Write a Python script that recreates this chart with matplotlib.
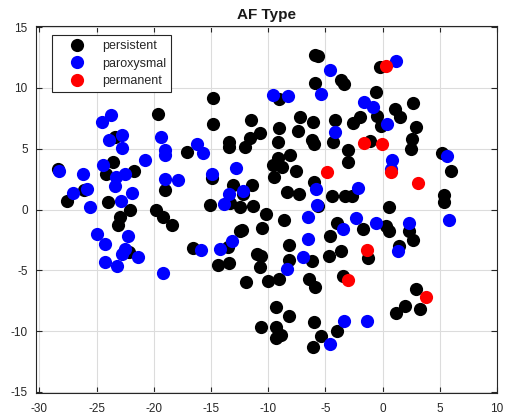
import matplotlib.pyplot as plt
from matplotlib.lines import Line2D

# persistent (black)
persistent_x = [-19.6, -23.4, -17.1, -28.4, -23.6, -24.2, -21.7, -26.1, -27.6, -24.0, -19.0, -22.1, -19.8,
                -23.0, -23.1, -19.2, -18.45, -16.6, -22.2,
                -5.9, -5.65, -3.6, -3.4, -5.9, -14.8, -9.06, -14.8, -11.5, -10.75, -11.6, -12.0, -13.4, -13.4,
                -9.06, -9.15, -7.25, -7.4, -6.1, -6.15, -6.0, -4.2, -4.3, -3.0, -3.0, -8.1, -9.15, -9.6, -8.8,
                -7.6, -9.5, -14.9, -13.1, -11.4, -12.2, -13.3, -15.1, -12.5, -11.3, -8.4, -7.35, -6.0, -4.4, -3.3,
                -0.25, -0.6, 2.7, 1.06, 1.5, -1.94, -2.6, -0.5, -0.1, 2.96, -1.1, 2.6, 2.5, 5.2, 6.0, -2.7,
                5.35, 5.4, 0.6,
                -10.2, -8.6, -10.55, -12.5, -12.3, -13.5, -14.4, -13.4, -11.0, -10.6, -10.75, -11.9, -10.0,
                -9.06, -8.2, -8.2, -6.2, -6.4, -5.9, -4.6, -4.0, -3.6, -4.7, -5.65, -9.3, -8.2, -10.6, -9.35,
                -8.85, -9.35, -6.0, -5.4, -6.1, -4.0, -3.5,
                -1.7, 0.33, 0.56, 2.3, 2.7, 1.43, -1.3, 2.9, 3.25, 2.0, 1.15]
persistent_y = [7.85, 6.0, 4.7, 3.3, 3.9, 2.9, 3.2, 1.6, 0.74, 0.6, 1.57, 0.0, 0.0,
                -0.6, -1.24, -0.6, -1.24, -3.2, -3.5,
                12.7, 12.65, 10.66, 10.33, 10.4, 9.15, 9.1, 7.0, 7.4, 6.3, 5.85, 5.15, 5.55, 5.15,
                6.67, 5.56, 7.6, 6.5, 7.2, 5.7, 5.4, 7.35, 5.56, 4.9, 3.9, 4.46, 4.24, 3.7, 3.5,
                3.2, 2.7, 2.6, 2.0, 2.04, 1.24, 0.5, 0.4, 0.2, 0.25, 1.43, 1.3, 2.26, 1.1, 1.1,
                11.7, 9.7, 8.8, 8.3, 7.6, 7.6, 7.1, 7.7, 6.86, 6.8, 5.65, 5.84, 5.0, 4.65, 3.17, 1.1,
                1.2, 0.6, 0.2,
                -0.4, -0.85, -1.5, -1.74, -1.68, -3.1, -4.6, -4.4, -3.7, -3.8, -4.7, -6.0, -5.87,
                -5.7, -2.9, -4.16, -4.27, -5.7, -6.4, -2.2, -1.1, -3.4, -3.86, 0.25, -8.0, -8.8, -9.7, -9.7,
                -10.3, -10.55, -9.26, -10.4, -11.3, -10.0, -5.5,
                -1.6, -1.32, -1.74, -1.8, -2.5, -2.98, -4.0, -6.55, -8.2, -7.9, -8.5]

# paroxysmal (blue)
paroxysmal_x = [-24.5, -23.7, -22.8, -23.9, -22.8, -19.4, -19.0, -19.0, -20.8, -24.4, -26.2, -23.3, -22.5,
                -23.4, -25.8, -27.1, -19.0, -17.9, -21.9, -22.9, -25.6, -28.3,
                -25.0, -24.25, -22.3, -22.5, -22.8, -21.4, -24.25, -23.2, -19.2,
                -9.6, -8.3, -4.6, -5.4, -4.2, -16.2, -15.7, -12.8, -14.9, -12.2, -13.4, -13.9, -5.8, -5.7,
                1.15, -1.65, -0.8, 0.42, 5.6, 0.86, 0.77, -2.15,
                -6.5, -3.5, -6.5, -6.96, -8.4, -15.85, -14.2, -13.2, -3.4, -4.6,
                -2.3, -0.54, 2.3, 1.35, 5.8, -1.4]
paroxysmal_y = [7.2, 7.8, 6.1, 5.7, 5.1, 6.0, 4.9, 4.5, 4.05, 3.7, 2.9, 2.7, 2.9,
                1.9, 1.7, 1.35, 2.5, 2.45, 1.35, 0.7, 0.2, 3.2,
                -2.0, -2.8, -2.2, -3.25, -3.7, -3.9, -4.3, -4.65, -5.2,
                9.4, 9.3, 11.5, 9.5, 6.4, 5.4, 4.65, 3.4, 2.95, 1.5, 1.24, 0.47, 1.65, 0.39,
                12.2, 8.87, 8.45, 7.0, 4.4, 4.1, 3.36, 1.76,
                -0.64, -1.6, -2.4, -3.9, -4.9, -3.3, -3.25, -2.56, -9.2, -11.1,
                -0.69, -1.13, -1.13, -3.4, -0.9, -9.2]

# permanent (red)
permanent_x = [-4.9, 0.33, -1.65, -0.02, 0.77, 3.1, -1.4, -3.0, 3.8]
permanent_y = [3.1, 11.8, 5.5, 5.43, 3.06, 2.2, -3.33, -5.8, -7.2]

labels = ['persistent', 'paroxysmal', 'permanent']
colors = ['black', '#0000ff', '#ff0000']

plt.rcParams['font.family'] = ['Liberation Sans', 'DejaVu Sans']
plt.rcParams['axes.unicode_minus'] = False

fig = plt.figure(figsize=(5.06, 4.19), dpi=100)
ax = fig.add_axes([36 / 506, 1 - 393 / 419, 461 / 506, 367 / 419])

ms = 9.5
ax.plot(persistent_x, persistent_y, 'o', color=colors[0], markersize=ms, markeredgewidth=0)
ax.plot(paroxysmal_x, paroxysmal_y, 'o', color=colors[1], markersize=ms, markeredgewidth=0)
ax.plot(permanent_x, permanent_y, 'o', color=colors[2], markersize=ms, markeredgewidth=0)

ax.set_xlim(-30.3, 10)
ax.set_ylim(-15.1, 15.1)
ax.set_xticks(range(-30, 11, 5))
ax.set_yticks(range(-15, 16, 5))
ax.grid(True, color='#dcdcdc', linewidth=0.8)
ax.set_axisbelow(True)
ax.tick_params(direction='in', length=4, top=True, right=True, labelsize=8.5, colors='#262626')
ax.tick_params(axis='x', pad=7)
ax.tick_params(axis='y', pad=6)
for s in ax.spines.values():
    s.set_color('#262626')
    s.set_linewidth(0.8)

ax.set_title('AF Type', fontsize=11, fontweight='bold', pad=5, color='#1a1a1a')

handles = [Line2D([], [], marker='o', linestyle='none', color=c, markersize=ms, markeredgewidth=0)
           for c in colors]
leg = ax.legend(handles, labels, loc='upper left', bbox_to_anchor=(0.035, 0.975), borderaxespad=0,
                fontsize=9, fancybox=False, framealpha=1, handletextpad=0.4, borderpad=0.4,
                labelspacing=0.45, handlelength=3.2)
leg.get_frame().set_edgecolor('#262626')
leg.get_frame().set_linewidth(0.8)
for t in leg.get_texts():
    t.set_color('#262626')

fig.savefig('out.png', dpi=100)
